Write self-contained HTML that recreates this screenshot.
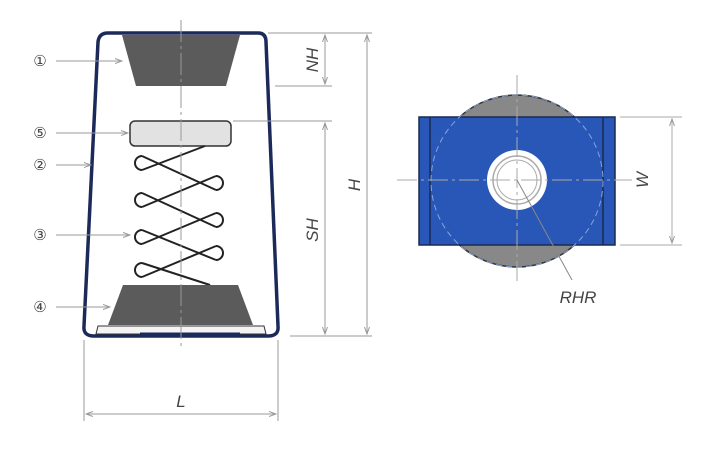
<!DOCTYPE html>
<html><head><style>body{margin:0;background:#fff}svg{display:block}</style></head><body>
<svg width="708" height="454" viewBox="0 0 708 454" xmlns="http://www.w3.org/2000/svg" font-family="Liberation Sans, sans-serif">
<defs>
<marker id="a" markerWidth="8" markerHeight="8" refX="7" refY="4" orient="auto"><path d="M0,1.5 L7,4 L0,6.5" fill="none" stroke="#999" stroke-width="1"/></marker>
<marker id="b" markerWidth="8" markerHeight="8" refX="1" refY="4" orient="auto"><path d="M8,1.5 L1,4 L8,6.5" fill="none" stroke="#999" stroke-width="1"/></marker>
</defs>
<path d="M108,33 L258,33 Q266,33 266,42 L278,326 Q279,336 268,336 L94,336 Q83,336 84,326 L98,42 Q99,33 108,33 Z" fill="none" stroke="#1c2a5a" stroke-width="3.5"/>
<path d="M122,35 L240,35 L226,86 L136,86 Z" fill="#5b5b5b"/>
<rect x="130" y="121" width="101" height="25" rx="5" fill="#e2e2e2" stroke="#333" stroke-width="1.5"/>
<g fill="none" stroke="#222" stroke-width="2">
<path d="M142,156 L216,190 M142,170 L205,146 M142,193 L216,227 M142,207 L216,176 M142,230 L216,260 M142,244 L216,213 M142,263 L210,285 M142,277 L216,246"/>
<path d="M142,156 A7 7 0 0 0 142,170 M142,193 A7 7 0 0 0 142,207 M142,230 A7 7 0 0 0 142,244 M142,263 A7 7 0 0 0 142,277"/>
<path d="M216,176 A7 7 0 0 1 216,190 M216,213 A7 7 0 0 1 216,227 M216,246 A7 7 0 0 1 216,260"/>
</g>
<path d="M123,285 L238,285 L253,325 L108,325 Z" fill="#5b5b5b"/>
<path d="M98,326 L264,326 L266,334 L96,334 Z" fill="#f4f4f4" stroke="#333" stroke-width="1"/>
<path d="M140,334 L240,334" stroke="#1c2a5a" stroke-width="3"/>
<line x1="181" y1="20" x2="181" y2="348" stroke="#999" stroke-width="1" stroke-dasharray="22,4,3,4"/>
<g stroke="#999" stroke-width="1" fill="none">
<line x1="268" y1="33" x2="372" y2="33"/><line x1="275" y1="86" x2="332" y2="86"/>
<line x1="233" y1="121" x2="332" y2="121"/><line x1="290" y1="336" x2="372" y2="336"/>
<line x1="325" y1="35" x2="325" y2="84" marker-start="url(#b)" marker-end="url(#a)"/>
<line x1="367" y1="35" x2="367" y2="334" marker-start="url(#b)" marker-end="url(#a)"/>
<line x1="325" y1="123" x2="325" y2="334" marker-start="url(#b)" marker-end="url(#a)"/>
<line x1="84" y1="340" x2="84" y2="421"/><line x1="278" y1="340" x2="278" y2="421"/>
<line x1="86" y1="414" x2="276" y2="414" marker-start="url(#b)" marker-end="url(#a)"/>
<line x1="56" y1="61" x2="122" y2="61" marker-end="url(#a)"/>
<line x1="56" y1="133" x2="128" y2="133" marker-end="url(#a)"/>
<line x1="56" y1="165" x2="91" y2="165" marker-end="url(#a)"/>
<line x1="56" y1="235" x2="130" y2="235" marker-end="url(#a)"/>
<line x1="56" y1="307" x2="110" y2="307" marker-end="url(#a)"/>
</g>
<g font-size="15" fill="#444" text-anchor="middle" font-family="Liberation Sans, DejaVu Sans, sans-serif">
<text x="40" y="66">①</text><text x="40" y="138">⑤</text><text x="40" y="170">②</text><text x="40" y="240">③</text><text x="40" y="312">④</text>
</g>
<g font-size="17" fill="#444" font-style="italic" text-anchor="middle">
<text transform="translate(318,60) rotate(-90)">NH</text>
<text transform="translate(360,185) rotate(-90)">H</text>
<text transform="translate(318,230) rotate(-90)">SH</text>
<text x="181" y="407">L</text>
<text transform="translate(648,180) rotate(-90)">W</text>
<text x="578" y="303">RHR</text>
</g>
<circle cx="517" cy="181" r="86" fill="#888" stroke="#333" stroke-width="1.5"/>
<rect x="419" y="117" width="196" height="128" fill="#2857b8" stroke="#1a2a50" stroke-width="1.5"/>
<line x1="430" y1="117" x2="430" y2="245" stroke="#1a2a50" stroke-width="1.5"/>
<line x1="603" y1="117" x2="603" y2="245" stroke="#1a2a50" stroke-width="1.5"/>
<circle cx="517" cy="181" r="86" fill="none" stroke="#8aa4d8" stroke-width="1" stroke-dasharray="6,4"/>
<circle cx="517" cy="180" r="30" fill="#fff"/>
<circle cx="517" cy="180" r="24" fill="none" stroke="#aaa" stroke-width="1.5"/>
<circle cx="517" cy="180" r="20" fill="none" stroke="#aaa" stroke-width="1"/>
<g stroke="#aaa" stroke-width="1">
<line x1="397" y1="180" x2="632" y2="180" stroke-dasharray="20,4,3,4"/>
<line x1="517" y1="75" x2="517" y2="285" stroke-dasharray="20,4,3,4"/>
<line x1="517" y1="180" x2="572" y2="280" stroke="#888"/>
<line x1="620" y1="117" x2="682" y2="117"/><line x1="620" y1="245" x2="682" y2="245"/>
<line x1="672" y1="119" x2="672" y2="243" marker-start="url(#b)" marker-end="url(#a)"/>
</g>
</svg>
</body></html>
